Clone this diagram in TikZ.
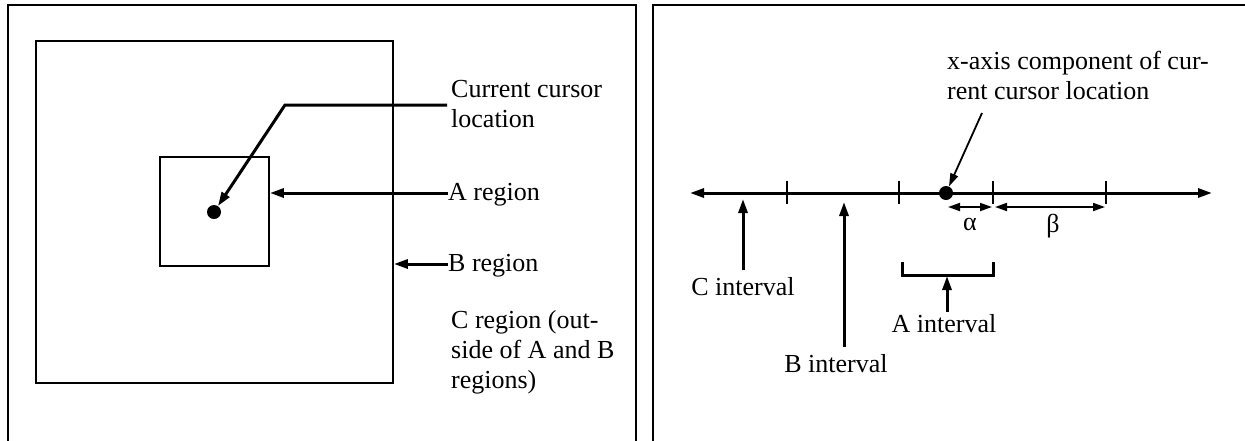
\documentclass[tikz,border=0pt]{standalone}
\usepackage{fontspec}
\setmainfont{Liberation Serif}
\usetikzlibrary{arrows.meta}
\begin{document}
\begin{tikzpicture}[x=1pt,y=-1pt,
  thin line/.style={line width=1.8pt},
  thick line/.style={line width=3pt},
  tip/.style={-{Triangle[length=14pt,width=9pt]}},
  small tip/.style={{Triangle[length=12pt,width=8pt]}-{Triangle[length=12pt,width=8pt]}},
  label/.style={font=\fontsize{26}{30}\selectfont, inner sep=0pt, align=left},
  dot/.style={circle, fill=black, inner sep=0pt, minimum size=14pt}]
\useasboundingbox (0,0) rectangle (1245,440);

% ---------- left panel: cursor regions ----------
\draw[thin line] (8,450) -- (8,5) -- (636,5) -- (636,450);
\node[draw, thin line, minimum width=357pt, minimum height=342pt, inner sep=0pt] (Bbox) at (214.5,212) {};
\node[draw, thin line, minimum width=109pt, minimum height=109pt, inner sep=0pt] (Abox) at (214.5,211.5) {};
\node[dot] (cur) at (214,212) {};

% multi-line labels are placed by the baseline of their last line
\node[label, anchor=base west] (curtxt) at (451,127) {Current cursor\\location};
\node[label, anchor=base west] (atxt) at (448,200) {A region};
\node[label, anchor=base west] (btxt) at (448,271) {B region};
\node[label, anchor=base west] (ctxt) at (451,388) {C region (out-\\side of A and B\\regions)};

\coordinate (bend) at (285,105);
\coordinate (curend) at (447,105);
\draw[thick line, tip] (curend) -- (bend) -- (cur);
\draw[thick line, tip] (atxt.west |- 0,193) -- (Abox.east |- 0,193);
\draw[thick line, tip] (btxt.west |- 0,264) -- (Bbox.east |- 0,264);

% ---------- right panel: x-axis intervals ----------
\draw[thin line] (653,450) -- (653,5) -- (1250,5);

\coordinate (axl) at (690,193);
\coordinate (axr) at (1212,193);
\draw[thick line, {Triangle[length=14pt,width=9pt]}-{Triangle[length=14pt,width=9pt]}] (axl) -- (axr);
\foreach \tx [count=\i] in {787,899,993,1106} {
  \coordinate (t\i) at (\tx,193);
  \draw[thin line] (\tx,181) -- (\tx,204);
}
\node[dot] (xcur) at (946,193) {};

\node[label, anchor=base west] (xtxt) at (947,99) {x-axis component of cur-\\rent cursor location};
\coordinate (xfrom) at (982,113);
\draw[thin line, -{Triangle[length=13pt,width=8pt]}] (xfrom) -- (xcur);

% alpha and beta spans
\coordinate (a0) at (948,207);
\coordinate (a1) at (992,207);
\coordinate (b0) at (995,207);
\coordinate (b1) at (1105,207);
\draw[thin line, small tip] (a0) -- (a1);
\draw[thin line, small tip] (b0) -- (b1);
\node[label, anchor=base] (alph) at (970,230) {α};
\node[label, anchor=base] (bet) at (1053,232) {β};

% interval labels
\node[label, anchor=base] (cint) at (743,295) {C interval};
\node[label, anchor=base] (bint) at (836,372) {B interval};
\node[label, anchor=base] (aint) at (944,332) {A interval};
\draw[thick line, tip] (743,270) -- (743,199);
\draw[thick line, tip] (844,347) -- (844,202);

% A interval bracket
\draw[thick line] (902,262) -- (902,275) -- (993,275) -- (993,262);
\coordinate (brk) at (947,276);
\draw[thick line, tip] (947,312) -- (brk);
\end{tikzpicture}
\end{document}
